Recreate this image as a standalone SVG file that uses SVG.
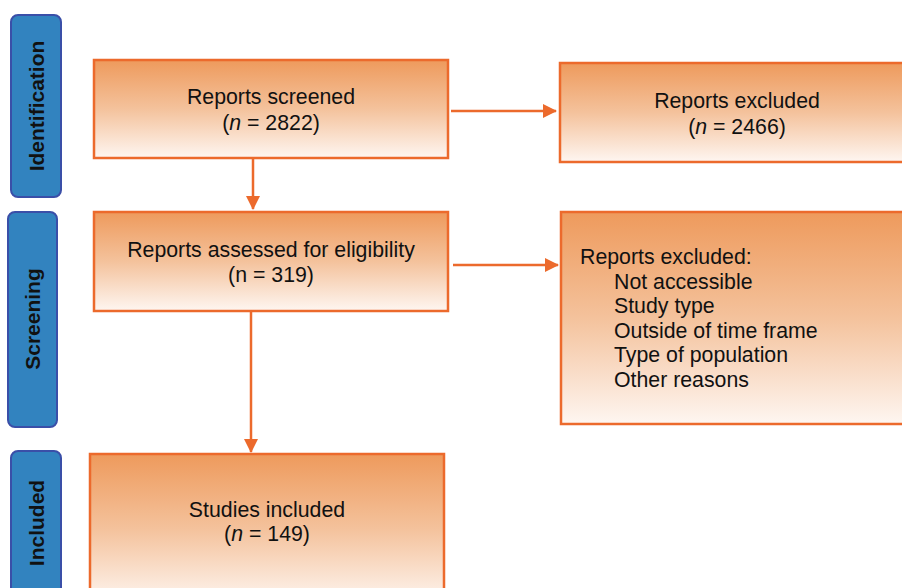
<svg xmlns="http://www.w3.org/2000/svg" width="902" height="588" viewBox="0 0 902 588">
<defs>
<linearGradient id="og" x1="0" y1="0" x2="0" y2="1">
<stop offset="0" stop-color="#ee9a5c"/>
<stop offset="0.5" stop-color="#f4c29c"/>
<stop offset="1" stop-color="#fef6f1"/>
</linearGradient>
<marker id="ah" markerWidth="14" markerHeight="14" refX="13" refY="7" orient="auto" markerUnits="userSpaceOnUse" viewBox="0 0 14 14">
<path d="M0,0 L14,7 L0,14 z" fill="#ec6a2c"/>
</marker>
<style>
.side{fill:#3283bf;stroke:#3a4fa8;stroke-width:2}
.sl{font-family:"Liberation Sans",Arial,sans-serif;font-size:21px;font-weight:bold;fill:#111;text-anchor:middle}
.box{fill:url(#og);stroke:#ec6a2c;stroke-width:2.5}
.t{font-family:"Liberation Sans",Arial,sans-serif;font-size:21.3px;fill:#111}
.c{text-anchor:middle}
.con{stroke:#ec6a2c;stroke-width:2.5;fill:none}
</style>
</defs>
<g id="side-identification">
<rect class="side" x="11" y="15" width="50" height="182" rx="7"/>
<text class="sl" transform="translate(44,106) rotate(-90)">Identification</text>
</g>
<g id="side-screening">
<rect class="side" x="8" y="212" width="49" height="215" rx="7"/>
<text class="sl" transform="translate(40,319) rotate(-90)">Screening</text>
</g>
<g id="side-included">
<rect class="side" x="11" y="451" width="50" height="150" rx="7"/>
<text class="sl" transform="translate(44,523) rotate(-90)">Included</text>
</g>
<g id="n-screened">
<rect class="box" x="94" y="60" width="354" height="98"/>
<text class="t c" x="271" y="104">Reports screened</text>
<text class="t c" x="271" y="130">(<tspan font-style="italic">n</tspan> = 2822)</text>
</g>
<g id="n-excluded1">
<rect class="box" x="560" y="63" width="350" height="99"/>
<text class="t c" x="737" y="108">Reports excluded</text>
<text class="t c" x="737" y="134">(<tspan font-style="italic">n</tspan> = 2466)</text>
</g>
<g id="n-assessed">
<rect class="box" x="94" y="212" width="354" height="99"/>
<text class="t c" x="271" y="257">Reports assessed for eligibility</text>
<text class="t c" x="271" y="282">(n = 319)</text>
</g>
<g id="n-excluded2">
<rect class="box" x="561" y="212" width="350" height="212"/>
<text class="t" x="580" y="264">Reports excluded:</text>
<text class="t" x="614" y="289">Not accessible</text>
<text class="t" x="614" y="313">Study type</text>
<text class="t" x="614" y="338">Outside of time frame</text>
<text class="t" x="614" y="362">Type of population</text>
<text class="t" x="614" y="387">Other reasons</text>
</g>
<g id="n-included">
<rect class="box" x="90" y="454" width="354" height="150"/>
<text class="t c" x="267" y="517">Studies included</text>
<text class="t c" x="267" y="541">(<tspan font-style="italic">n</tspan> = 149)</text>
</g>
<g id="connectors">
<line class="con" x1="253" y1="158" x2="253" y2="209" marker-end="url(#ah)"/>
<line class="con" x1="451" y1="111" x2="556" y2="111" marker-end="url(#ah)"/>
<line class="con" x1="453" y1="265" x2="558" y2="265" marker-end="url(#ah)"/>
<line class="con" x1="251" y1="311" x2="251" y2="452" marker-end="url(#ah)"/>
</g>
</svg>
